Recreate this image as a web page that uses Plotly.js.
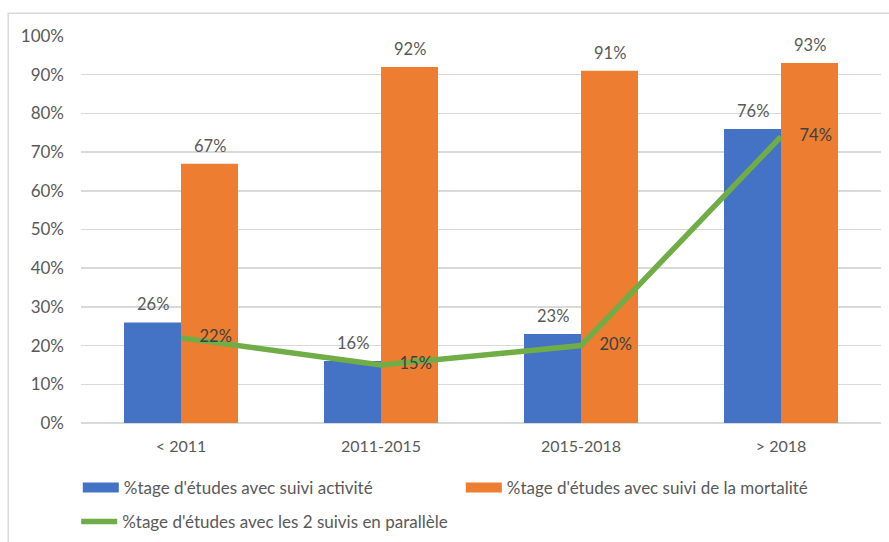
<!DOCTYPE html>
<html>
<head>
<meta charset="utf-8">
<script src="https://cdn.plot.ly/plotly-3.0.1.min.js"></script>
<style>html,body{margin:0;padding:0;background:#fff;}#chart{width:889px;height:542px;}</style>
</head>
<body>
<div id="chart"></div>
<script>
const categories = ["< 2011", "2011-2015", "2015-2018", "> 2018"];
const activite = [26, 16, 23, 76];
const mortalite = [67, 92, 91, 93];
const deuxSuivis = [22, 15, 20, 74];
const seriesNames = [
  "%tage d'études avec suivi activité",
  "%tage d'études avec suivi de la mortalité",
  "%tage d'études avec les 2 suivis en parallèle"
];
const yTickVals = [0,10,20,30,40,50,60,70,80,90,100];
const yTickText = yTickVals.map(v => v + "%");

const FONT = "Lato, 'Open Sans', sans-serif";
const TXT = "#595959";
const BLUE = "#4472C4", ORANGE = "#ED7D31", GREEN = "#70AD47";
const pct = a => a.map(v => v + "%");

const traces = [
  {
    type: "bar", name: seriesNames[0], x: categories, y: activite,
    marker: {color: BLUE}, hoverinfo: "skip", showlegend: false
  },
  {
    type: "bar", name: seriesNames[1], x: categories, y: mortalite,
    marker: {color: ORANGE}, hoverinfo: "skip", showlegend: false
  },
  {
    type: "scatter", mode: "lines+markers+text", name: seriesNames[2], x: categories, y: deuxSuivis,
    line: {color: GREEN, width: 5.5},
    marker: {size: 28, color: "rgba(0,0,0,0)"},
    text: pct(deuxSuivis), textposition: "middle right", cliponaxis: false,
    textfont: {family: FONT, size: 16.5, color: "#404040"},
    hoverinfo: "skip", legend: "legend2"
  },
  // legend swatches for the bar series (wide rectangles as in the reference)
  {
    type: "scatter", mode: "lines", name: seriesNames[0], x: [null], y: [null],
    line: {color: BLUE, width: 11}, hoverinfo: "skip", legend: "legend"
  },
  {
    type: "scatter", mode: "lines", name: seriesNames[1], x: [null], y: [null],
    line: {color: ORANGE, width: 11}, hoverinfo: "skip", legend: "legend"
  }
];

const annotations = [];
categories.forEach((c, i) => {
  annotations.push({x: c, y: activite[i], xref: "x", yref: "y", text: activite[i] + "%",
    showarrow: false, yanchor: "bottom", xshift: -28.5, yshift: 6,
    font: {family: FONT, size: 16.5, color: TXT}});
  annotations.push({x: c, y: mortalite[i], xref: "x", yref: "y", text: mortalite[i] + "%",
    showarrow: false, yanchor: "bottom", xshift: 28.5, yshift: 6,
    font: {family: FONT, size: 16.5, color: TXT}});
});

const layout = {
  width: 889, height: 542,
  margin: {l: 81, r: 8, t: 36, b: 119, autoexpand: false},
  paper_bgcolor: "#fff", plot_bgcolor: "#fff",
  font: {family: FONT, size: 17, color: TXT},
  barmode: "group", bargap: 0.43, bargroupgap: 0,
  showlegend: true,
  xaxis: {
    type: "category", showgrid: false, zeroline: false,
    showline: false, ticks: "", ticklabelstandoff: 12,
    tickfont: {family: FONT, size: 16, color: TXT}
  },
  yaxis: {
    range: [0, 100], tickvals: yTickVals, ticktext: yTickText,
    showgrid: true, gridcolor: "#D9D9D9", gridwidth: 1.5,
    zeroline: true, zerolinecolor: "#D9D9D9", zerolinewidth: 1.5,
    showline: false, ticks: "", ticklabelstandoff: 16,
    tickfont: {family: FONT, size: 17, color: TXT}
  },
  legend: {
    orientation: "h", x: -0.004, xanchor: "left", y: -0.168, yanchor: "middle",
    entrywidth: 332, entrywidthmode: "pixels", itemwidth: 36,
    font: {family: FONT, size: 17, color: TXT}, bgcolor: "rgba(0,0,0,0)"
  },
  legend2: {
    orientation: "h", x: -0.006, xanchor: "left", y: -0.256, yanchor: "middle",
    itemwidth: 36,
    font: {family: FONT, size: 17, color: TXT}, bgcolor: "rgba(0,0,0,0)"
  },
  annotations: annotations,
  shapes: [
    {type: "rect", xref: "paper", yref: "paper",
     x0: -0.091, x1: 1.03, y0: -0.35, y1: 1.059,
     line: {color: "#D9D9D9", width: 1.5}, fillcolor: "rgba(0,0,0,0)", layer: "below"}
  ]
};

Plotly.newPlot("chart", traces, layout, {displayModeBar: false, staticPlot: true});
</script>
</body>
</html>
